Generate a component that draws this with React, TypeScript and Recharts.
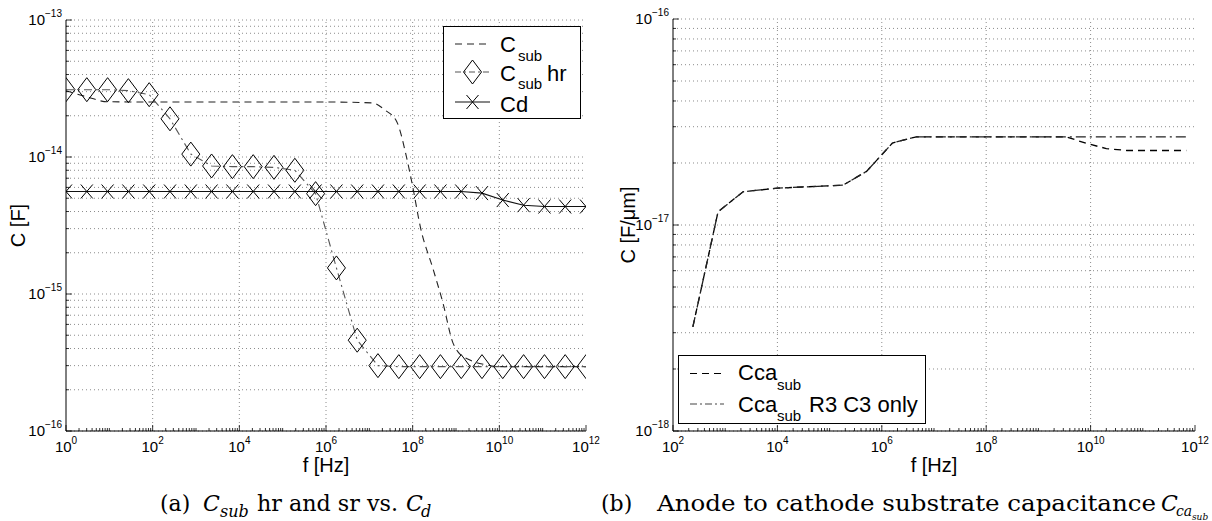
import React from "react";
import { LineChart, Line, XAxis, YAxis, CartesianGrid, ReferenceLine, Legend } from "recharts";

// ---- (a) C_sub hr / sr vs Cd ----
// marker frequencies (Hz), shared by C_sub hr and Cd
const fMarkers = [
  1, 3.02, 9.12, 27.5, 83.2, 251, 759, 2290, 6918, 2.09e4, 6.31e4, 1.91e5, 5.75e5,
  1.74e6, 5.25e6, 1.58e7, 4.79e7, 1.45e8, 4.37e8, 1.32e9, 3.98e9, 1.2e10, 3.63e10,
  1.1e11, 3.31e11, 1e12,
];
const cSubHr = [
  3.1e-14, 3.1e-14, 3.1e-14, 3.05e-14, 2.85e-14, 1.9e-14, 1.05e-14, 8.6e-15, 8.5e-15,
  8.5e-15, 8.4e-15, 8.0e-15, 5.4e-15, 1.55e-15, 4.6e-16, 3.0e-16, 2.95e-16, 2.95e-16,
  2.95e-16, 2.95e-16, 2.95e-16, 2.95e-16, 2.95e-16, 2.95e-16, 2.95e-16, 2.95e-16,
];
const cD = [
  5.6e-15, 5.6e-15, 5.6e-15, 5.6e-15, 5.6e-15, 5.6e-15, 5.6e-15, 5.6e-15, 5.6e-15,
  5.6e-15, 5.6e-15, 5.6e-15, 5.6e-15, 5.6e-15, 5.6e-15, 5.6e-15, 5.6e-15, 5.6e-15,
  5.6e-15, 5.6e-15, 5.45e-15, 4.85e-15, 4.45e-15, 4.35e-15, 4.35e-15, 4.35e-15,
];
// C_sub (dashed, no markers)
const fSub = [
  1, 3, 9, 100, 1e6, 1.2e7, 2.3e7, 4.3e7, 7.2e7, 1.0e8, 1.5e8, 3.0e8, 5.0e8, 8.5e8,
  1.1e9, 2.1e9, 5.2e9, 1e10, 1e12,
];
const cSub = [
  3.05e-14, 2.75e-14, 2.53e-14, 2.52e-14, 2.52e-14, 2.48e-14, 2.2e-14, 1.81e-14, 1.0e-14,
  6.1e-15, 3.1e-15, 1.5e-15, 8.6e-16, 4.4e-16, 3.8e-16, 3.3e-16, 3.03e-16, 2.95e-16, 2.95e-16,
];

// ---- (b) anode to cathode substrate capacitance ----
const fCa = [240, 730, 2.2e3, 1e4, 1.8e5, 5.1e5, 1.6e6, 4.6e6, 1e8, 3.4e9, 8.3e9, 2e10, 4.9e10, 6.8e11];
const cCaSub = [
  3.2e-18, 1.16e-17, 1.45e-17, 1.51e-17, 1.56e-17, 1.82e-17, 2.5e-17, 2.68e-17, 2.68e-17,
  2.68e-17, 2.49e-17, 2.35e-17, 2.3e-17, 2.3e-17,
];
const cCaR3 = [
  3.2e-18, 1.16e-17, 1.45e-17, 1.51e-17, 1.56e-17, 1.82e-17, 2.5e-17, 2.68e-17, 2.68e-17,
  2.68e-17, 2.68e-17, 2.68e-17, 2.68e-17, 2.68e-17,
];

// axis decades
const xDecA = [0, 12];
const yDecA = [-16, -13];
const xDecB = [2, 12];
const yDecB = [-18, -16];
const xGridA = [1e2, 1e4, 1e6, 1e8, 1e10];
const xGridB = [1e4, 1e6, 1e8, 1e10];

const FONT = "Liberation Sans, Arial, Helvetica, sans-serif";
const SERIF = "DejaVu Serif, Liberation Serif, serif";
const GRID = "#8c8c8c";

const logTicks = ([lo, hi]: number[]) => {
  const out: number[] = [];
  for (let n = lo; n < hi; n++) for (let k = 1; k < 10; k++) out.push(k * Math.pow(10, n));
  out.push(Math.pow(10, hi));
  return out;
};

const logInfo = (v: number) => {
  const e = Math.log10(v);
  const r = Math.round(e);
  return { r, exact: Math.abs(e - r) < 1e-6 };
};
const expText = (r: number) => String(r).replace("-", "\u2212");

const bottomTick = (step: number) => (p: any) => {
  const { r, exact } = logInfo(p.payload.value);
  const major = exact && r % step === 0;
  return (
    <g>
      <line x1={p.x} x2={p.x} y1={p.y} y2={p.y - (major ? 6 : 3)} stroke="#000" strokeWidth={0.8} />
      {major && (
        <text x={p.x} y={p.y + 21} textAnchor="middle" fontSize={15} fontFamily={FONT} fill="#000">
          10<tspan dy={-8} fontSize={10}>{expText(r)}</tspan>
        </text>
      )}
    </g>
  );
};
const topTick = (step: number) => (p: any) => {
  const { r, exact } = logInfo(p.payload.value);
  const major = exact && r % step === 0;
  return <line x1={p.x} x2={p.x} y1={p.y} y2={p.y + (major ? 6 : 3)} stroke="#000" strokeWidth={0.8} />;
};
const leftTick = (p: any) => {
  const { r, exact } = logInfo(p.payload.value);
  return (
    <g>
      <line x1={p.x} x2={p.x + (exact ? 6 : 3)} y1={p.y} y2={p.y} stroke="#000" strokeWidth={0.8} />
      {exact && (
        <text x={p.x - 4} y={p.y + 5} textAnchor="end" fontSize={15} fontFamily={FONT} fill="#000">
          10<tspan dy={-8} fontSize={10}>{expText(r)}</tspan>
        </text>
      )}
    </g>
  );
};
const rightTick = (p: any) => {
  const { exact } = logInfo(p.payload.value);
  return <line x1={p.x} x2={p.x - (exact ? 6 : 3)} y1={p.y} y2={p.y} stroke="#000" strokeWidth={0.8} />;
};

const yTitle = (text: string, cx: number) => ({
  content: (p: any) => {
    const cy = p.viewBox.y + p.viewBox.height / 2;
    return (
      <text x={cx} y={cy} transform={`rotate(-90 ${cx} ${cy})`} textAnchor="middle" dominantBaseline="central" fontSize={20} fontFamily={FONT} fill="#000">
        {text}
      </text>
    );
  },
});
const xTitle = {
  content: (p: any) => {
    const cx = p.viewBox.x + p.viewBox.width / 2;
    return (
      <text x={cx} y={p.viewBox.y + 41} textAnchor="middle" fontSize={20} fontFamily={FONT} fill="#000">
        f [Hz]
      </text>
    );
  },
};

const diamond = (cx: number, cy: number) => `M${cx},${cy - 12}L${cx + 9},${cy}L${cx},${cy + 12}L${cx - 9},${cy}Z`;
const cross = (cx: number, cy: number) => `M${cx - 6},${cy - 7}L${cx + 6},${cy + 7}M${cx - 6},${cy + 7}L${cx + 6},${cy - 7}`;

const subData = fSub.map((f, i) => ({ f, c: cSub[i] }));
const markerData = fMarkers.map((f, i) => ({ f, hr: cSubHr[i], cd: cD[i] }));
const caData = fCa.map((f, i) => ({ f, sub: cCaSub[i], r3: cCaR3[i] }));

const DASH_SUB = "7 5";
const DASH_HR = "8 4 2 4";
const DASH_R3 = "10 4 2 4";

function LegendA() {
  const rows = [18, 46, 76];
  return (
    <svg width={138} height={93} style={{ display: "block" }}>
      <rect x={0.5} y={0.5} width={137} height={92} fill="#fff" stroke="#000" strokeWidth={1} />
      <line x1={12} x2={47} y1={rows[0]} y2={rows[0]} stroke="#222" strokeDasharray={DASH_SUB} strokeWidth={1.1} />
      <line x1={12} x2={47} y1={rows[1]} y2={rows[1]} stroke="#555" strokeDasharray="6 3 2 3" strokeWidth={1.1} />
      <path d={diamond(29.5, rows[1])} fill="none" stroke="#000" />
      <line x1={12} x2={47} y1={rows[2]} y2={rows[2]} stroke="#111" strokeWidth={1.1} />
      <path d={cross(29.5, rows[2])} fill="none" stroke="#000" />
      <g fontFamily={FONT} fill="#000">
        <text x={57} y={26} fontSize={22}>C</text>
        <text x={75} y={35} fontSize={15}>sub</text>
        <text x={57} y={54.5} fontSize={22}>C</text>
        <text x={75} y={63} fontSize={15}>sub</text>
        <text x={104} y={54.5} fontSize={22}>hr</text>
        <text x={57} y={86} fontSize={22}>Cd</text>
      </g>
    </svg>
  );
}

function LegendB() {
  const rows = [18.5, 49];
  return (
    <svg width={248} height={69} style={{ display: "block" }}>
      <rect x={0.5} y={0.5} width={247} height={68} fill="#fff" stroke="#000" strokeWidth={1} />
      <line x1={12} x2={46} y1={rows[0]} y2={rows[0]} stroke="#000" strokeDasharray={DASH_SUB} strokeWidth={1.2} />
      <line x1={12} x2={46} y1={rows[1]} y2={rows[1]} stroke="#444" strokeDasharray="7 3 2 3" strokeWidth={1.1} />
      <g fontFamily={FONT} fill="#000">
        <text x={60} y={25} fontSize={22}>Cca</text>
        <text x={99} y={35} fontSize={15}>sub</text>
        <text x={60} y={56.5} fontSize={22}>Cca</text>
        <text x={99} y={66} fontSize={15}>sub</text>
        <text x={131} y={56.5} fontSize={22}>R3 C3 only</text>
      </g>
    </svg>
  );
}

function ChartA() {
  return (
    <LineChart width={600} height={480} margin={{ top: 20, right: 14, bottom: 0, left: 0 }}>
      <CartesianGrid xAxisId="b" yAxisId="l" vertical={false} stroke={GRID} strokeDasharray="1 3" />
      <XAxis xAxisId="b" dataKey="f" type="number" scale="log" domain={[1, 1e12]} allowDataOverflow ticks={logTicks(xDecA)} interval={0}
        tick={bottomTick(2)} tickSize={0} tickMargin={0} tickLine={false} height={49} axisLine={{ stroke: "#000" }} label={xTitle} />
      <XAxis xAxisId="t" orientation="top" dataKey="f" type="number" scale="log" domain={[1, 1e12]} allowDataOverflow ticks={logTicks(xDecA)} interval={0}
        tick={topTick(2)} tickSize={0} tickMargin={0} tickLine={false} height={0} axisLine={{ stroke: "#000" }} />
      <YAxis yAxisId="l" type="number" scale="log" domain={[1e-16, 1e-13]} allowDataOverflow ticks={logTicks(yDecA)} interval={0}
        tick={leftTick} tickSize={0} tickMargin={0} tickLine={false} width={66} axisLine={{ stroke: "#000" }} label={yTitle("C [F]", 18)} />
      <YAxis yAxisId="r" orientation="right" type="number" scale="log" domain={[1e-16, 1e-13]} allowDataOverflow ticks={logTicks(yDecA)} interval={0}
        tick={rightTick} tickSize={0} tickMargin={0} tickLine={false} width={0} axisLine={{ stroke: "#000" }} />
      {xGridA.map((v) => (
        <ReferenceLine key={v} xAxisId="b" yAxisId="l" x={v} stroke={GRID} strokeDasharray="1 3" />
      ))}
      <Line xAxisId="b" yAxisId="l" data={subData} dataKey="c" type="monotone" stroke="#222" strokeWidth={1.1}
        strokeDasharray={DASH_SUB} dot={false} activeDot={false} isAnimationActive={false} />
      <Line xAxisId="b" yAxisId="l" data={markerData} dataKey="hr" type="linear" stroke="#555" strokeWidth={1.1}
        strokeDasharray={DASH_HR} activeDot={false} isAnimationActive={false}
        dot={(p: any) => <path key={`d${p.index}`} d={diamond(p.cx, p.cy)} fill="none" stroke="#000" strokeWidth={1} />} />
      <Line xAxisId="b" yAxisId="l" data={markerData} dataKey="cd" type="linear" stroke="#111" strokeWidth={1.1}
        activeDot={false} isAnimationActive={false}
        dot={(p: any) => <path key={`x${p.index}`} d={cross(p.cx, p.cy)} fill="none" stroke="#000" strokeWidth={1} />} />
      <Legend layout="vertical" align="center" verticalAlign="middle" content={() => <LegendA />}
        wrapperStyle={{ left: 443, top: 26, width: 138, height: 93 }} />
    </LineChart>
  );
}

function ChartB() {
  return (
    <LineChart width={612} height={480} margin={{ top: 19, right: 17, bottom: 0, left: 0 }}>
      <CartesianGrid xAxisId="b" yAxisId="l" vertical={false} stroke={GRID} strokeDasharray="1 3" />
      <XAxis xAxisId="b" dataKey="f" type="number" scale="log" domain={[1e2, 1e12]} allowDataOverflow ticks={logTicks(xDecB)} interval={0}
        tick={bottomTick(2)} tickSize={0} tickMargin={0} tickLine={false} height={49} axisLine={{ stroke: "#000" }} label={xTitle} />
      <XAxis xAxisId="t" orientation="top" dataKey="f" type="number" scale="log" domain={[1e2, 1e12]} allowDataOverflow ticks={logTicks(xDecB)} interval={0}
        tick={topTick(2)} tickSize={0} tickMargin={0} tickLine={false} height={0} axisLine={{ stroke: "#000" }} />
      <YAxis yAxisId="l" type="number" scale="log" domain={[1e-18, 1e-16]} allowDataOverflow ticks={logTicks(yDecB)} interval={0}
        tick={leftTick} tickSize={0} tickMargin={0} tickLine={false} width={73} axisLine={{ stroke: "#000" }} label={yTitle("C [F/\u03bcm]", 28)} />
      <YAxis yAxisId="r" orientation="right" type="number" scale="log" domain={[1e-18, 1e-16]} allowDataOverflow ticks={logTicks(yDecB)} interval={0}
        tick={rightTick} tickSize={0} tickMargin={0} tickLine={false} width={0} axisLine={{ stroke: "#000" }} />
      {xGridB.map((v) => (
        <ReferenceLine key={v} xAxisId="b" yAxisId="l" x={v} stroke={GRID} strokeDasharray="1 3" />
      ))}
      <Line xAxisId="b" yAxisId="l" data={caData} dataKey="sub" type="linear" stroke="#000" strokeWidth={1.3}
        strokeDasharray={DASH_SUB} dot={false} activeDot={false} isAnimationActive={false} />
      <Line xAxisId="b" yAxisId="l" data={caData} dataKey="r3" type="linear" stroke="#222" strokeWidth={1.3}
        strokeDasharray={DASH_R3} dot={false} activeDot={false} isAnimationActive={false} />
      <Legend layout="vertical" align="center" verticalAlign="middle" content={() => <LegendB />}
        wrapperStyle={{ left: 78, top: 355, width: 248, height: 69 }} />
    </LineChart>
  );
}

export default function App() {
  return (
    <div style={{ position: "absolute", left: 0, top: 0, width: 1212, height: 521, background: "#fff", overflow: "hidden" }}>
      <div style={{ position: "absolute", left: 0, top: 0 }}>
        <ChartA />
      </div>
      <div style={{ position: "absolute", left: 600, top: 0 }}>
        <ChartB />
      </div>
      <svg width={1212} height={521} style={{ position: "absolute", left: 0, top: 0, pointerEvents: "none" }}>
        <g fontFamily={SERIF} fill="#000" fontSize={22}>
          <text x={160} y={511}>(a)</text>
          <text x={203} y={511} fontStyle="italic">C</text>
          <text x={220} y={517} fontStyle="italic" fontSize={16}>sub</text>
          <text x={257} y={511} textLength={141} lengthAdjust="spacingAndGlyphs">hr and sr vs.</text>
          <text x={406} y={511} fontStyle="italic">C</text>
          <text x={421} y={517} fontStyle="italic" fontSize={16}>d</text>

          <text x={601} y={511}>(b)</text>
          <text x={657} y={511} textLength={499} lengthAdjust="spacingAndGlyphs">Anode to cathode substrate capacitance</text>
          <text x={1161} y={511} fontStyle="italic">C</text>
          <text x={1176} y={516} fontStyle="italic" fontSize={14}>ca</text>
          <text x={1192} y={520} fontStyle="italic" fontSize={9}>sub</text>
        </g>
      </svg>
    </div>
  );
}
